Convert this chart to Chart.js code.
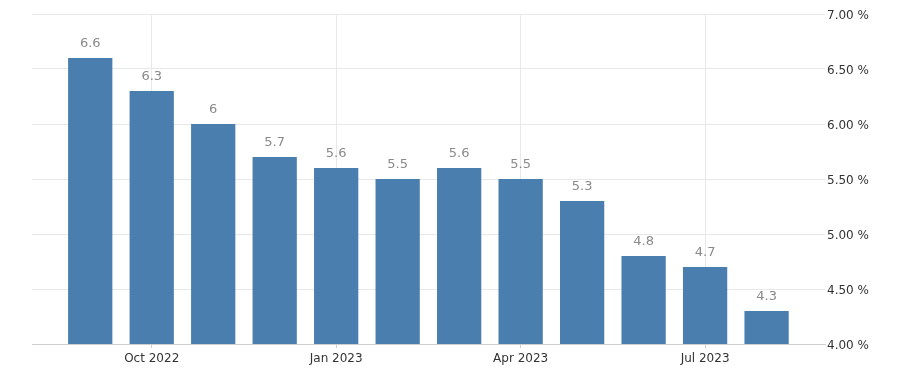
<!DOCTYPE html>
<html>
<head>
<meta charset="utf-8">
<script src="https://cdn.jsdelivr.net/npm/chart.js@4"></script>
<style>
  html, body { margin: 0; padding: 0; background: #fff; }
  #box { width: 907px; height: 381px; }
</style>
</head>
<body>
<div id="box"><canvas id="grafico"></canvas></div>
<script>
// months shown, one bar each
const meses = ["Sep 2022", "Oct 2022", "Nov 2022", "Dec 2022", "Jan 2023", "Feb 2023",
               "Mar 2023", "Apr 2023", "May 2023", "Jun 2023", "Jul 2023", "Aug 2023"];
const valores = [6.6, 6.3, 6, 5.7, 5.6, 5.5, 5.6, 5.5, 5.3, 4.8, 4.7, 4.3];
// months that get a label on the x axis
const mesesComRotulo = ["Oct 2022", "Jan 2023", "Apr 2023", "Jul 2023"];
const ticksY = [4, 4.5, 5, 5.5, 6, 6.5, 7];

const fonte = "'DejaVu Sans', sans-serif";

// writes the value above each bar
const rotulosBarras = {
    id: "rotulosBarras",
    afterDatasetsDraw(chart) {
        const ctx = chart.ctx;
        const meta = chart.getDatasetMeta(0);
        ctx.save();
        ctx.font = "13px " + fonte;
        ctx.fillStyle = "#8a8a8a";
        ctx.textAlign = "center";
        ctx.textBaseline = "bottom";
        meta.data.forEach((barra, i) => {
            const p = barra.getProps(["x", "y"], true);
            ctx.fillText(String(valores[i]), p.x, p.y - 8);
        });
        ctx.restore();
    }
};

const dados = valores.map((v, i) => ({ x: i, y: v }));

new Chart(document.getElementById("grafico"), {
    type: "bar",
    data: {
        datasets: [{
            data: dados,
            backgroundColor: "#4a7eaf",
            barPercentage: 0.72,
            categoryPercentage: 1
        }]
    },
    options: {
        responsive: true,
        maintainAspectRatio: false,
        animation: false,
        layout: { padding: { top: 14, left: 32, right: 0, bottom: 0 } },
        plugins: {
            legend: { display: false },
            tooltip: { enabled: false }
        },
        scales: {
            x: {
                type: "linear",
                offset: false,
                min: -0.947,
                max: 11.95,
                afterBuildTicks(axis) {
                    axis.ticks = mesesComRotulo.map(m => ({ value: meses.indexOf(m) }));
                },
                afterFit(axis) { axis.height = 37; },
                border: { color: "#cfcfcf" },
                grid: {
                    offset: false,
                    color: "#e8e8e8",
                    tickLength: 4,
                    tickColor: "#cfcfcf"
                },
                ticks: {
                    autoSkip: false,
                    maxRotation: 0,
                    padding: 4,
                    color: "#333",
                    font: { family: fonte, size: 12 },
                    callback: v => meses[v]
                }
            },
            y: {
                position: "right",
                min: 4,
                max: 7,
                afterBuildTicks(axis) {
                    axis.ticks = ticksY.map(v => ({ value: v }));
                },
                afterFit(axis) { axis.width = 82; },
                border: { display: false },
                grid: { color: "#e8e8e8", drawTicks: false },
                ticks: {
                    padding: 2,
                    labelOffset: 2,
                    color: "#333",
                    font: { family: fonte, size: 12 },
                    callback: v => v.toFixed(2) + " %"
                }
            }
        }
    },
    plugins: [rotulosBarras]
});
</script>
</body>
</html>
